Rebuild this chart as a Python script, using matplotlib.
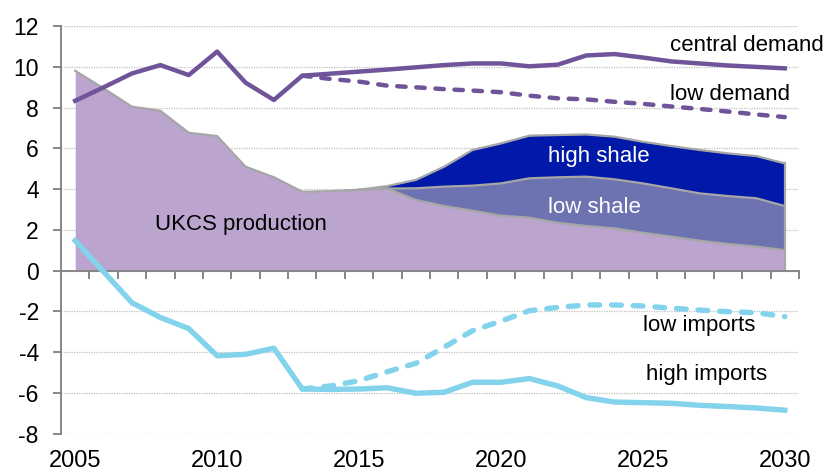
"""
UK gas: demand, UKCS production, shale and imports
"""
import matplotlib.pyplot as plt
from matplotlib import ticker

years = list(range(2005, 2031))
central_demand = [8.33, 8.99, 9.67, 10.08, 9.59, 10.74, 9.22, 8.37, 9.56, 9.66,
                  9.76, 9.86, 9.97, 10.08, 10.16, 10.16, 10.02, 10.1, 10.55, 10.62,
                  10.45, 10.26, 10.16, 10.06, 9.99, 9.92]
ukcs = [9.8, 8.94, 8.04, 7.84, 6.76, 6.6, 5.1, 4.58, 3.87, 3.9, 3.97, 4.03, 3.47,
        3.17, 2.94, 2.7, 2.6, 2.35, 2.19, 2.08, 1.86, 1.67, 1.47, 1.31, 1.18, 1.01]
high_imports = [1.47, -0.05, -1.57, -2.29, -2.84, -4.17, -4.1, -3.8, -5.8, -5.82,
                -5.8, -5.74, -6.01, -5.96, -5.47, -5.47, -5.29, -5.65, -6.22, -6.44,
                -6.47, -6.5, -6.6, -6.66, -6.73, -6.84]

scen_years = list(range(2013, 2031))
low_demand = [9.56, 9.4, 9.27, 9.07, 8.99, 8.9, 8.83, 8.75, 8.58, 8.45, 8.4, 8.28,
              8.18, 8.05, 7.93, 7.8, 7.66, 7.53]
low_imports = [-5.8, -5.65, -5.39, -4.95, -4.54, -3.75, -2.94, -2.47, -1.96, -1.8,
               -1.68, -1.68, -1.73, -1.84, -1.93, -2.01, -2.06, -2.25]

shale_years = list(range(2015, 2031))
low_shale_top = [3.97, 4.03, 4.04, 4.12, 4.17, 4.28, 4.53, 4.58, 4.61, 4.48, 4.28,
                 4.04, 3.79, 3.66, 3.55, 3.17]
high_shale_top = [3.97, 4.15, 4.45, 5.1, 5.92, 6.24, 6.62, 6.65, 6.68, 6.57, 6.32,
                  6.11, 5.92, 5.75, 5.62, 5.26]

year_labels = [2005, 2010, 2015, 2020, 2025, 2030]

PURPLE = '#6F5499'
SKY = '#84D3EC'
EDGE = '#A6A6A6'
AXIS = '#868686'

plt.rcParams['font.family'] = ['Liberation Sans', 'DejaVu Sans']
plt.rcParams['axes.unicode_minus'] = False

fig = plt.figure(figsize=(8.29, 4.73), dpi=100)
ax = fig.add_axes([0.0736, 0.0827, 0.8902, 0.8625])

# stacked areas
ukcs_tail = ukcs[shale_years[0] - years[0]:]
ax.fill_between(years, 0, ukcs, color='#BBA5CE', lw=0, zorder=2)
ax.fill_between(shale_years, ukcs_tail, low_shale_top, color='#6D72B1', lw=0, zorder=2)
ax.fill_between(shale_years, low_shale_top, high_shale_top, color='#0019A9', lw=0, zorder=2)
ax.plot(years, ukcs, color=EDGE, lw=1.6, zorder=3)
ax.plot(shale_years, low_shale_top, color=EDGE, lw=1.6, zorder=3)
ax.plot(shale_years, high_shale_top, color=EDGE, lw=1.6, zorder=3)
ax.plot([years[-1], years[-1]], [0, high_shale_top[-1]], color=EDGE, lw=1.6, zorder=3)

# demand and imports
ax.plot(years, central_demand, color=PURPLE, lw=3.2, zorder=5)
ax.plot(scen_years, low_demand, color=PURPLE, lw=3.2, dashes=(1.9, 2.4),
        dash_capstyle='round', zorder=5)
ax.plot(years, high_imports, color=SKY, lw=3.9, zorder=5)
ax.plot(scen_years, low_imports, color=SKY, lw=3.9, dashes=(1.8, 2.2),
        dash_capstyle='round', zorder=5)

# axes
ax.set_xlim(years[0] - 0.5, years[-1] + 0.5)
ax.set_ylim(-8, 12)
ax.yaxis.set_major_locator(ticker.MultipleLocator(2))
ax.grid(axis='y', color='#BFBFBF', ls=(0, (1, 1)), lw=0.9)
ax.set_axisbelow(True)

for side in ('top', 'right'):
    ax.spines[side].set_visible(False)
ax.spines['left'].set_color(AXIS)
ax.spines['left'].set_linewidth(1.4)
ax.spines['bottom'].set_position(('data', 0))
ax.spines['bottom'].set_color(AXIS)
ax.spines['bottom'].set_linewidth(1.4)
ax.spines['bottom'].set_zorder(4)

ax.tick_params(axis='y', direction='out', length=6, width=1.4, color=AXIS,
               pad=10, labelsize=16.5)
ax.set_xticks([y - 0.5 for y in years] + [years[-1] + 0.5])
ax.tick_params(axis='x', direction='out', length=6, width=1.4, color=AXIS,
               labelbottom=False)

xt = ax.get_xaxis_transform()
for yr in year_labels:
    ax.text(yr, -0.067, str(yr), transform=xt, ha='center', va='center', fontsize=17)

# labels
ax.text(2025.95, 10.77, 'central demand', fontsize=16, va='baseline', clip_on=False)
ax.text(2025.95, 8.37, 'low demand', fontsize=16, va='baseline')
ax.text(2021.65, 5.34, 'high shale', fontsize=16, va='baseline', color='white')
ax.text(2021.65, 2.81, 'low shale', fontsize=16, va='baseline', color='white')
ax.text(2007.8, 1.99, 'UKCS production', fontsize=16, va='baseline')
ax.text(2025.0, -2.96, 'low imports', fontsize=16, va='baseline')
ax.text(2025.1, -5.36, 'high imports', fontsize=16, va='baseline')

plt.savefig('out.png')
